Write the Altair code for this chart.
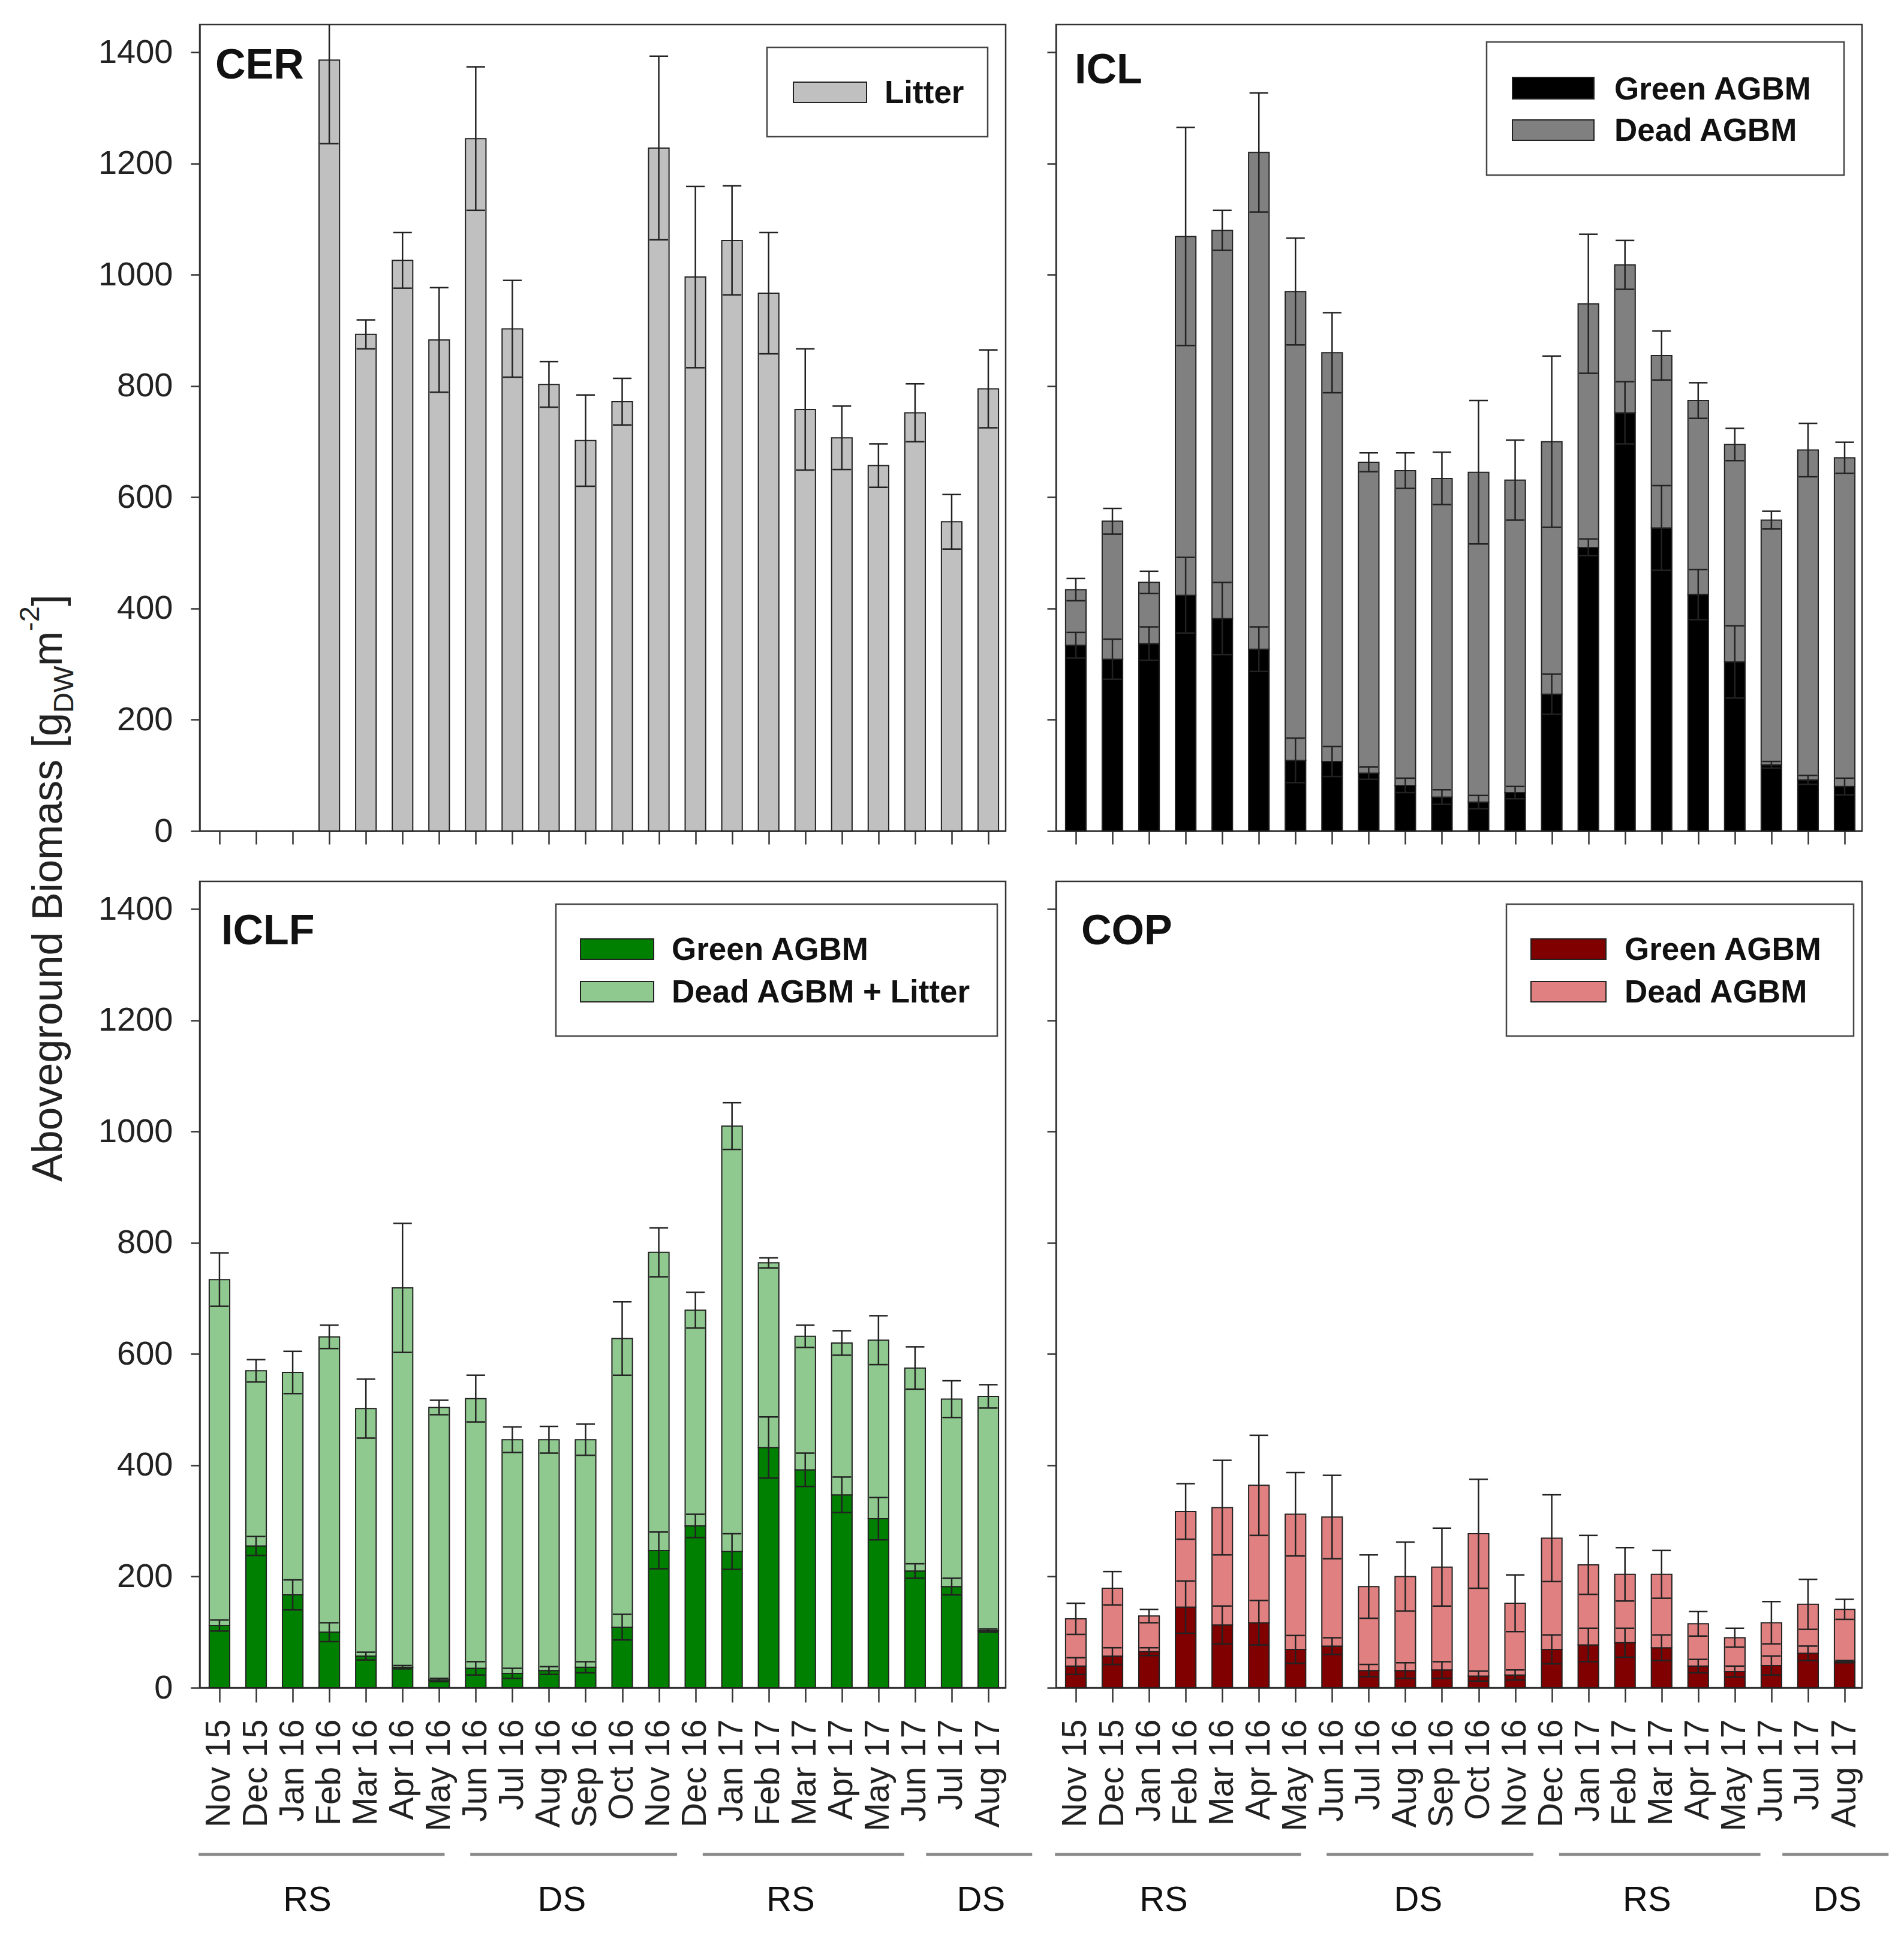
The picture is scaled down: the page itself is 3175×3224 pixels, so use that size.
import altair as alt
import pandas as pd

months = ["Nov 15", "Dec 15", "Jan 16", "Feb 16", "Mar 16", "Apr 16", "May 16",
          "Jun 16", "Jul 16", "Aug 16", "Sep 16", "Oct 16", "Nov 16", "Dec 16",
          "Jan 17", "Feb 17", "Mar 17", "Apr 17", "May 17", "Jun 17", "Jul 17", "Aug 17"]

# CER: litter only
cer_litter = [None, None, None, 1386, 893, 1026, 883, 1245, 903, 803, 702, 772,
              1228, 996, 1062, 967, 758, 707, 657, 752, 556, 795]
cer_litter_err = [None, None, None, 150, 26, 50, 94, 129, 87, 41, 82, 42,
                  165, 163, 98, 109, 109, 57, 39, 52, 49, 70]

# ICL
icl_green = [334, 309, 337, 424, 382, 327, 127, 125, 104, 82, 61, 52, 69, 246,
             510, 752, 545, 425, 304, 119, 92, 80]
icl_green_err = [23, 36, 30, 68, 65, 40, 40, 27, 11, 13, 13, 12, 11, 36,
                 15, 56, 76, 45, 65, 6, 8, 15]
icl_dead = [100, 248, 110, 645, 698, 893, 843, 735, 559, 566, 573, 593, 562, 454,
            438, 266, 310, 349, 391, 440, 593, 591]
icl_dead_err = [20, 23, 20, 196, 36, 107, 96, 72, 17, 32, 47, 129, 72, 154,
                125, 44, 44, 32, 29, 16, 48, 28]

# ICLF
iclf_green = [112, 255, 167, 100, 57, 37, 14, 35, 26, 31, 37, 109, 247, 291,
              245, 432, 392, 347, 304, 210, 182, 103]
iclf_green_err = [10, 17, 27, 17, 7, 3, 3, 12, 9, 7, 10, 23, 33, 21,
                  32, 55, 30, 32, 38, 13, 15, 3]
iclf_dead = [622, 315, 400, 531, 445, 682, 490, 485, 420, 415, 409, 519, 536, 388,
             765, 332, 240, 273, 321, 365, 337, 421]
iclf_dead_err = [48, 20, 38, 21, 53, 116, 13, 42, 23, 24, 28, 66, 44, 32,
                 42, 9, 20, 22, 44, 38, 33, 21]

# COP
cop_green = [39, 57, 65, 145, 113, 117, 69, 75, 31, 31, 32, 21, 23, 69,
             77, 81, 72, 39, 29, 40, 62, 47]
cop_green_err = [15, 15, 7, 47, 34, 40, 25, 15, 11, 14, 15, 9, 9, 26,
                 30, 26, 23, 12, 10, 17, 13, 2]
cop_dead = [85, 122, 64, 172, 211, 247, 243, 232, 151, 169, 185, 256, 129, 200,
            144, 123, 132, 76, 61, 77, 88, 94]
cop_dead_err = [28, 30, 12, 50, 85, 90, 75, 75, 57, 62, 70, 98, 51, 78,
                53, 48, 43, 22, 17, 38, 45, 18]

# seasons (in month-index units along the x axis)
season_labels = ["RS", "DS", "RS", "DS"]
season_start = [-0.57, 6.85, 13.2, 19.3]
season_end = [6.15, 12.5, 18.7, 22.2]
season_center = [2.4, 9.35, 15.6, 20.8]

y_ticks = [0, 200, 400, 600, 800, 1000, 1200, 1400]
title_pieces = ["Aboveground Biomass [g", "DW", "m", "-2", "]"]

W, H = 1344, 1345
FONT = "Liberation Sans"
INK = "#222222"
xs = alt.Scale(domain=[-0.54, 21.475], nice=False, zero=False)
ys = alt.Scale(domain=[0, 1450], nice=False, zero=True)
label_expr = "[" + ",".join("'%s'" % m for m in months) + "][datum.value]"


def x_axis(show_labels):
    if show_labels:
        return alt.Axis(title=None, values=list(range(len(months))), labelExpr=label_expr,
                        labelAngle=-90, labelPadding=28, tickSize=24, grid=False,
                        labelFontSize=57, labelFont=FONT, labelColor=INK, labelLimit=0)
    return alt.Axis(title=None, values=list(range(len(months))), labels=False,
                    tickSize=22, grid=False)


def y_axis(show_labels):
    return alt.Axis(title=None, values=y_ticks, labels=show_labels, tickSize=15,
                    labelPadding=30, grid=False, labelFontSize=56, labelFont=FONT,
                    labelColor=INK, format="d", labelLimit=0)


def panel(name, title_xy, series, colors, legend_labels, legend_geom,
          show_x_labels, show_y_labels, extra=None):
    data = {"idx": list(range(len(months))), "month": months}
    for k, (v, e) in enumerate(series):
        data["v%d" % k] = v
        data["e%d" % k] = e
    df = pd.DataFrame(data)
    xa = x_axis(show_x_labels)
    ya = y_axis(show_y_labels)
    calc = {"lo": "datum.idx - 0.28", "hi": "datum.idx + 0.28",
            "clo": "datum.idx - 0.255", "chi": "datum.idx + 0.255"}
    cum = "0"
    for k in range(len(series)):
        calc["b%d" % k] = cum
        cum = cum + " + datum.v%d" % k
        calc["t%d" % k] = cum
        calc["el%d" % k] = "datum.t%d - datum.e%d" % (k, k)
        calc["eh%d" % k] = "datum.t%d + datum.e%d" % (k, k)
    base = alt.Chart(df).transform_filter("isValid(datum.v0)")
    for key, expr in calc.items():
        base = base.transform_calculate(**{key: expr})

    layers = []
    for k in range(len(series)):
        layers.append(base.mark_rect(fill=colors[k], stroke=INK, strokeWidth=2).encode(
            x=alt.X("lo:Q", scale=xs, axis=xa), x2="hi:Q",
            y=alt.Y("b%d:Q" % k, scale=ys, axis=ya), y2="t%d:Q" % k))
    for k in range(len(series)):
        layers.append(base.mark_rule(color=INK, strokeWidth=2.5, clip=True).encode(
            x=alt.X("idx:Q", scale=xs, axis=xa),
            y=alt.Y("el%d:Q" % k, scale=ys, axis=ya), y2="eh%d:Q" % k))
        for end in ("el", "eh"):
            layers.append(base.mark_rule(color=INK, strokeWidth=2.5, clip=True).encode(
                x=alt.X("clo:Q", scale=xs, axis=xa), x2="chi:Q",
                y=alt.Y("%s%d:Q" % (end, k), scale=ys, axis=ya)))

    # panel label
    one = pd.DataFrame({"t": [name]})
    layers.append(alt.Chart(one).mark_text(
        font=FONT, fontSize=70, fontWeight="bold", align="left", baseline="alphabetic",
        color="#111111").encode(text="t:N", x=alt.value(title_xy[0]), y=alt.value(title_xy[1])))

    # legend box
    bx0, by0, bx1, by1, sx0, sx1, rows, tx = legend_geom
    layers.append(alt.Chart(one).mark_rect(fill="white", stroke="#444444", strokeWidth=2.5).encode(
        x=alt.value(bx0), x2=alt.value(bx1), y=alt.value(by0), y2=alt.value(by1)))
    for (lab, col, (ry0, ry1)) in zip(legend_labels, colors, rows):
        ld = pd.DataFrame({"t": [lab]})
        layers.append(alt.Chart(ld).mark_rect(fill=col, stroke=INK, strokeWidth=2).encode(
            x=alt.value(sx0), x2=alt.value(sx1), y=alt.value(ry0), y2=alt.value(ry1)))
        layers.append(alt.Chart(ld).mark_text(
            font=FONT, fontSize=53, fontWeight="bold", align="left", baseline="alphabetic",
            color="#111111").encode(text="t:N", x=alt.value(tx), y=alt.value(ry1 + 1)))

    if extra is not None:
        layers.extend(extra(xa, ya))

    return alt.layer(*layers).properties(width=W, height=H)


def season_layers(xa, ya):
    sd = pd.DataFrame({"lab": season_labels, "s": season_start, "e": season_end,
                       "c": season_center})
    line = alt.Chart(sd).mark_rule(color="#8a8a8a", strokeWidth=5).encode(
        x=alt.X("s:Q", scale=xs, axis=xa), x2="e:Q", y=alt.value(H + 278))
    txt = alt.Chart(sd).mark_text(font=FONT, fontSize=58, align="center",
                                  baseline="alphabetic", color="#111111").encode(
        x=alt.X("c:Q", scale=xs, axis=xa), y=alt.value(H + 372), text="lab:N")
    return [line, txt]


def ytitle_layers(xa, ya):
    x0 = -230
    y0 = 1930
    specs = [  # (piece index, along offset, cross shift, size)
        (0, 0, 0, 70), (1, 782, 19, 47), (2, 860, 0, 70), (3, 918, -38, 47), (4, 960, 0, 70)]
    out = []
    for i, off, sh, sz in specs:
        d = pd.DataFrame({"t": [title_pieces[i]]})
        out.append(alt.Chart(d).mark_text(
            font=FONT, fontSize=sz, angle=270, align="left", baseline="alphabetic",
            color="#222222").encode(text="t:N", x=alt.value(x0 + sh), y=alt.value(y0 - off)))
    return out


cer = panel("CER", (26, 90), [(cer_litter, cer_litter_err)], ["#c0c0c0"], ["Litter"],
            (946, 38, 1314, 187, 990, 1112, [(96, 130)], 1142),
            False, True, extra=ytitle_layers)
icl = panel("ICL", (31, 98), [(icl_green, icl_green_err), (icl_dead, icl_dead_err)],
            ["#000000", "#808080"], ["Green AGBM", "Dead AGBM"],
            (718, 29, 1314, 251, 761, 897, [(88, 124), (159, 193)], 931),
            False, False)
iclf = panel("ICLF", (36, 105), [(iclf_green, iclf_green_err), (iclf_dead, iclf_dead_err)],
             ["#008000", "#90c990"], ["Green AGBM", "Dead AGBM + Litter"],
             (594, 38, 1330, 258, 635, 757, [(96, 130), (167, 201)], 787),
             True, True, extra=season_layers)
cop = panel("COP", (42, 105), [(cop_green, cop_green_err), (cop_dead, cop_dead_err)],
            ["#800000", "#e08080"], ["Green AGBM", "Dead AGBM"],
            (751, 38, 1330, 258, 792, 917, [(96, 130), (167, 201)], 948),
            True, False, extra=season_layers)

chart = alt.concat(cer, icl, iclf, cop, columns=2, spacing=84, bounds="flush").properties(
    padding={"left": 17, "top": 31, "right": 5, "bottom": 5},
    background="white",
).configure_view(stroke="#333333", strokeWidth=2.5).configure_axis(
    domainColor="#333333", tickColor="#333333", domainWidth=2.5, tickWidth=2.5, grid=False)

chart.save("out.html", embed_options={"renderer": "svg", "actions": False})
